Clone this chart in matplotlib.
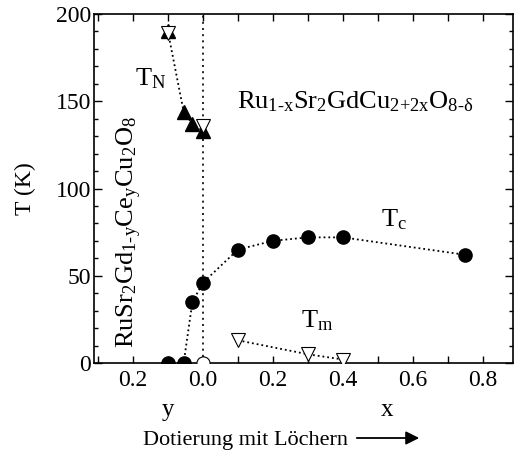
import matplotlib.pyplot as plt
from matplotlib.patches import FancyArrowPatch
from matplotlib.ticker import MultipleLocator, FixedLocator, FixedFormatter

plt.rcParams['font.family'] = ['Liberation Serif', 'DejaVu Serif']
plt.rcParams['mathtext.fontset'] = 'custom'
plt.rcParams['mathtext.rm'] = 'Liberation Serif'
plt.rcParams['mathtext.it'] = 'Liberation Serif'

# hole doping: negative side = y (Ce doping), positive side = x
tc_x = [-0.1, -0.055, -0.03, 0.0, 0.1, 0.2, 0.3, 0.4, 0.75]
tc_y = [0, 0, 35, 46, 65, 70, 72, 72, 62]

tn_x = [-0.1, -0.055, -0.03, 0.0]
tn_y = [190, 144, 137, 133]

tn_open_x = [-0.1, 0.0]
tn_open_y = [189, 136]

tm_x = [0.1, 0.3, 0.4]
tm_y = [13, 5, 2]

tc_open_x = [0.0]
tc_open_y = [0]

xtick_pos = [-0.2, 0.0, 0.2, 0.4, 0.6, 0.8]
xtick_lab = ['0.2', '0.0', '0.2', '0.4', '0.6', '0.8']

fig = plt.figure(figsize=(5.14, 4.61), dpi=100)
ax = fig.add_axes([0.183, 0.2126, 0.815, 0.757])

ax.axvline(0, color='black', ls=(0, (1.2, 2.5)), lw=1.2, zorder=1)

ax.plot(tn_x, tn_y, ls=':', color='black', lw=1.3, marker='^', ms=10,
        mfc='black', mec='black', zorder=3)
ax.plot(tn_open_x, tn_open_y, ls='none', marker='v', ms=10,
        mfc='white', mec='black', mew=0.8, zorder=4)
ax.plot(tc_x, tc_y, ls=':', color='black', lw=1.3, marker='o', ms=9.5,
        mfc='black', mec='black', zorder=3)
ax.plot(tc_open_x, tc_open_y, ls='none', marker='o', ms=9.5,
        mfc='white', mec='black', mew=0.8, zorder=4)
ax.plot(tm_x, tm_y, ls=':', color='black', lw=1.3, marker='v', ms=10,
        mfc='white', mec='black', mew=0.8, zorder=3)

ax.set_xlim(-0.311, 0.886)
ax.set_ylim(0, 200)

ax.xaxis.set_major_locator(FixedLocator(xtick_pos))
ax.xaxis.set_major_formatter(FixedFormatter(xtick_lab))
ax.xaxis.set_minor_locator(MultipleLocator(0.1))
ax.yaxis.set_major_locator(MultipleLocator(50))
ax.yaxis.set_minor_locator(MultipleLocator(10))
ax.tick_params(which='both', direction='in', top=True, right=True,
               labelsize=17, width=1)
ax.tick_params(axis='x', which='both', length=5, pad=5)
ax.tick_params(axis='y', which='major', length=6, pad=2)
ax.tick_params(axis='y', which='minor', length=3)
for s in ax.spines.values():
    s.set_linewidth(1.2)

ax.set_ylabel('T (K)', fontsize=17, labelpad=14)

ax.text(-0.195, 163, r'T$_\mathrm{N}$', fontsize=19, va='center')
ax.text(0.097, 150, r'Ru$_\mathrm{1\text{-}x}$Sr$_\mathrm{2}$GdCu$_\mathrm{2{+}2x}$O$_\mathrm{8\text{-}\delta}$',
        fontsize=19, va='center')
ax.text(0.51, 82, r'T$_\mathrm{c}$', fontsize=19, va='center')
ax.text(0.28, 24, r'T$_\mathrm{m}$', fontsize=19, va='center')
ax.text(-0.21, 75, r'RuSr$_\mathrm{2}$Gd$_\mathrm{1\text{-}y}$Ce$_\mathrm{y}$Cu$_\mathrm{2}$O$_\mathrm{8}$',
        fontsize=19, rotation=90, ha='center', va='center')

fig.text(168 / 514, 1 - 410 / 461, 'y', fontsize=18, ha='center', va='center')
fig.text(387 / 514, 1 - 410 / 461, 'x', fontsize=18, ha='center', va='center')
fig.text(143 / 514, 1 - 440 / 461, 'Dotierung mit Löchern', fontsize=16,
         ha='left', va='center')
fig.add_artist(FancyArrowPatch(
    (354 / 514, 1 - 438 / 461), (422 / 514, 1 - 438 / 461),
    transform=fig.transFigure, arrowstyle='-|>,head_length=8,head_width=4',
    color='black', lw=1.3, mutation_scale=1))

fig.savefig('out.png', dpi=100)
